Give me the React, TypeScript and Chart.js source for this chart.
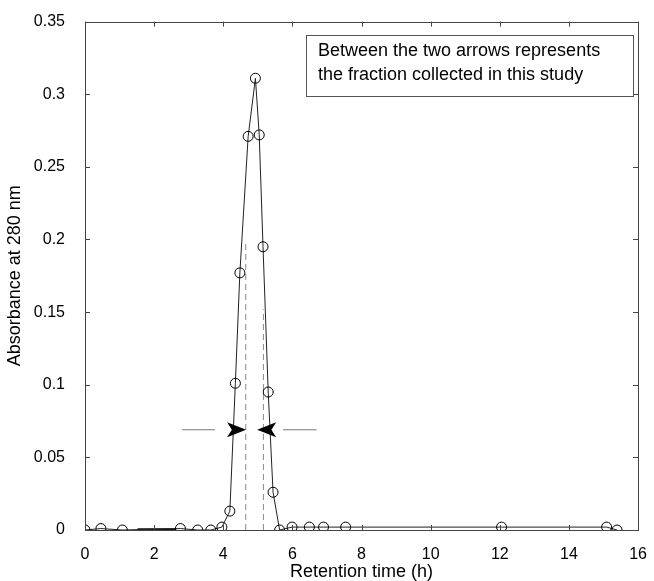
import React, { useEffect, useRef } from "react";
import { Chart, registerables } from "chart.js";

Chart.register(...registerables);

// ---- data ----
const retentionTime = [0, 0.46, 1.08, 2.76, 3.26, 3.64, 3.96, 4.19, 4.35, 4.48, 4.72, 4.93, 5.04, 5.15, 5.3, 5.44, 5.63, 5.99, 6.49, 6.9, 7.54, 12.05, 15.09, 15.39];
const absorbance = [0, 0.001, 0, 0.001, 0, 0, 0.002, 0.013, 0.101, 0.177, 0.271, 0.311, 0.272, 0.195, 0.095, 0.026, 0, 0.002, 0.002, 0.002, 0.002, 0.002, 0.002, 0];

const xTickValues = [0, 2, 4, 6, 8, 10, 12, 14, 16];
const yTickValues = [0, 0.05, 0.1, 0.15, 0.2, 0.25, 0.3, 0.35];

// fraction-collection markers
const cutX = [4.65, 5.16];
const cutTop = [0.199, 0.152];
const arrowLevel = 0.069;
const leftArrowLine = [2.81, 3.76];
const rightArrowLine = [5.73, 6.7];
const arrowTips = [4.66, 4.98];
const arrowTails = [4.11, 5.53];

// darker overlapping baseline stroke visible between ~1.5 h and ~2.6 h
const overlapX = [1.52, 2.64];
const overlapY = 0.0006;

const noteLines = ["Between the two arrows represents", "the fraction collected in this study"];

const FONT = "'Liberation Sans', Arial, Helvetica, sans-serif";

const fmt = (v: number) => String(parseFloat(v.toFixed(2)));

const framePlugin = {
  id: "frame",
  afterDraw(chart: any) {
    const { ctx, chartArea: a, scales } = chart;
    const x = scales.x, y = scales.y;
    ctx.save();
    ctx.strokeStyle = "#444";
    ctx.lineWidth = 1;
    ctx.strokeRect(Math.round(a.left) + 0.5, Math.round(a.top) + 0.5, Math.round(a.right - a.left), Math.round(a.bottom - a.top));
    const L = 5;
    ctx.beginPath();
    xTickValues.forEach((v) => {
      const px = Math.round(x.getPixelForValue(v)) + 0.5;
      ctx.moveTo(px, a.bottom);
      ctx.lineTo(px, a.bottom - L);
      ctx.moveTo(px, a.top);
      ctx.lineTo(px, a.top + L);
    });
    yTickValues.forEach((v) => {
      const py = Math.round(y.getPixelForValue(v)) + 0.5;
      ctx.moveTo(a.left, py);
      ctx.lineTo(a.left + L, py);
      ctx.moveTo(a.right, py);
      ctx.lineTo(a.right - L, py);
    });
    ctx.stroke();

    // note box
    const bx = 306.5, by = 35.5, bw = 327, bh = 61;
    ctx.fillStyle = "#fff";
    ctx.fillRect(bx, by, bw, bh);
    ctx.strokeStyle = "#555";
    ctx.strokeRect(bx, by, bw, bh);
    ctx.fillStyle = "#000";
    ctx.font = `18px ${FONT}`;
    ctx.textBaseline = "middle";
    ctx.textAlign = "left";
    ctx.fillText(noteLines[0], 318, 51);
    ctx.fillText(noteLines[1], 318, 75);
    ctx.restore();
  },
};

const arrowPlugin = {
  id: "arrows",
  afterDatasetsDraw(chart: any) {
    const { ctx, scales } = chart;
    const x = scales.x, y = scales.y;
    ctx.save();
    ctx.fillStyle = "#000";
    const py = y.getPixelForValue(arrowLevel);
    for (let i = 0; i < arrowTips.length; i++) {
      const tip = x.getPixelForValue(arrowTips[i]);
      const tail = x.getPixelForValue(arrowTails[i]);
      const notch = tail + (tip - tail) * 0.25;
      const h = 7.5;
      ctx.beginPath();
      ctx.moveTo(tip, py);
      ctx.lineTo(tail, py - h);
      ctx.lineTo(notch, py);
      ctx.lineTo(tail, py + h);
      ctx.closePath();
      ctx.fill();
    }
    ctx.restore();
  },
};

export default function App() {
  const ref = useRef<HTMLCanvasElement>(null);
  useEffect(() => {
    if (!ref.current) return;
    const mainData = retentionTime.map((t, i) => ({ x: t, y: absorbance[i] }));
    const chart = new Chart(ref.current, {
      type: "scatter",
      data: {
        datasets: [
          {
            data: mainData,
            showLine: true,
            borderColor: "#222",
            borderWidth: 1,
            pointRadius: 5,
            pointBorderColor: "#000",
            pointBorderWidth: 1,
            pointBackgroundColor: "rgba(0,0,0,0)",
            tension: 0,
          },
          {
            data: [{ x: overlapX[0], y: overlapY }, { x: overlapX[1], y: overlapY }],
            showLine: true,
            borderColor: "#111",
            borderWidth: 2,
            pointRadius: 0,
          },
          {
            data: [{ x: cutX[0], y: 0 }, { x: cutX[0], y: cutTop[0] }],
            showLine: true,
            borderColor: "#888",
            borderWidth: 1,
            borderDash: [6, 4],
            pointRadius: 0,
          },
          {
            data: [{ x: cutX[1], y: 0 }, { x: cutX[1], y: cutTop[1] }],
            showLine: true,
            borderColor: "#888",
            borderWidth: 1,
            borderDash: [6, 4],
            pointRadius: 0,
          },
          {
            data: [{ x: leftArrowLine[0], y: arrowLevel }, { x: leftArrowLine[1], y: arrowLevel }],
            showLine: true,
            borderColor: "#777",
            borderWidth: 1,
            pointRadius: 0,
          },
          {
            data: [{ x: rightArrowLine[0], y: arrowLevel }, { x: rightArrowLine[1], y: arrowLevel }],
            showLine: true,
            borderColor: "#777",
            borderWidth: 1,
            pointRadius: 0,
          },
        ],
      },
      options: {
        animation: false,
        responsive: false,
        devicePixelRatio: 1,
        layout: { padding: { left: 0, top: 20, right: 12, bottom: 0 } },
        plugins: { legend: { display: false }, tooltip: { enabled: false } },
        scales: {
          x: {
            type: "linear",
            min: 0,
            max: 16,
            grid: { display: false },
            border: { display: false },
            afterBuildTicks: (s: any) => {
              s.ticks = xTickValues.map((v) => ({ value: v }));
            },
            afterFit: (s: any) => {
              s.height = 51;
            },
            ticks: {
              color: "#000",
              font: { family: FONT, size: 16 },
              padding: 7,
              maxRotation: 0,
              callback: (v: any) => fmt(Number(v)),
            },
            title: {
              display: true,
              text: "Retention time (h)",
              color: "#000",
              font: { family: FONT, size: 18, lineHeight: 1 },
              padding: { top: 0, bottom: 0 },
            },
          },
          y: {
            type: "linear",
            min: 0,
            max: 0.35,
            grid: { display: false },
            border: { display: false },
            afterBuildTicks: (s: any) => {
              s.ticks = yTickValues.map((v) => ({ value: v }));
            },
            afterFit: (s: any) => {
              s.width = 85;
            },
            ticks: {
              color: "#000",
              font: { family: FONT, size: 16 },
              padding: 12,
              callback: (v: any) => fmt(Number(v)),
            },
            title: {
              display: true,
              text: "Absorbance at 280 nm",
              color: "#000",
              font: { family: FONT, size: 18, lineHeight: 1 },
              padding: { top: 6, bottom: 6 },
            },
          },
        },
      },
      plugins: [framePlugin, arrowPlugin],
    } as any);
    return () => chart.destroy();
  }, []);
  return (
    <div style={{ position: "absolute", left: 0, top: 0, width: 654, height: 581, background: "#fff" }}>
      <canvas ref={ref} width={654} height={581} />
    </div>
  );
}
